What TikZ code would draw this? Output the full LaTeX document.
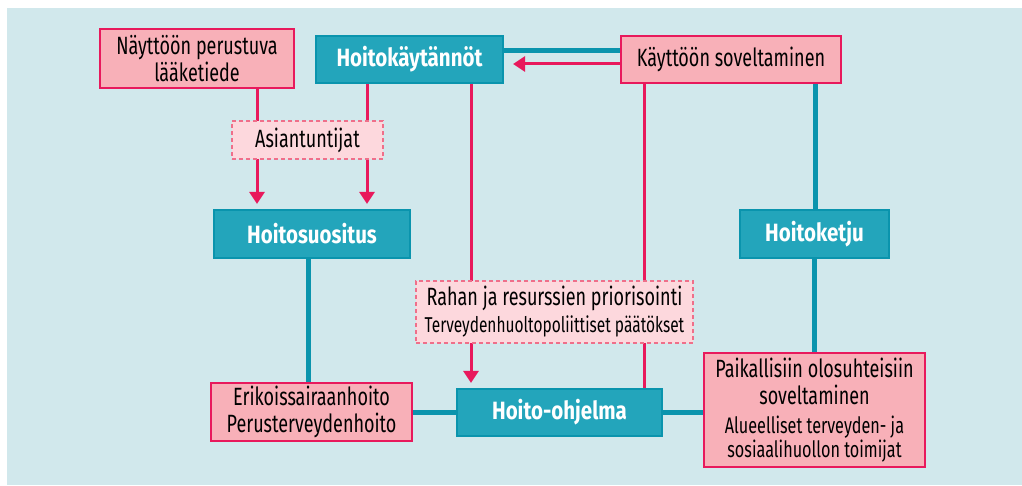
\documentclass[tikz,border=0pt]{standalone}
\usepackage{fontspec}
\setmainfont{Fira Sans}[FakeStretch=0.72, BoldFeatures={FakeStretch=0.82}]
\usetikzlibrary{arrows.meta}
\definecolor{bgc}{HTML}{D1E8EC}
\definecolor{pinkfill}{HTML}{F8B0B8}
\definecolor{pinkline}{HTML}{E8195C}
\definecolor{lightpink}{HTML}{FDD8DD}
\definecolor{dashpink}{HTML}{EF6F8A}
\definecolor{tealfill}{HTML}{23A5BB}
\definecolor{tealline}{HTML}{0A94AD}
\pgfdeclarelayer{bg}
\pgfdeclarelayer{lines}
\pgfsetlayers{bg,lines,main}
\tikzset{
  pinkbox/.style={draw=pinkline, line width=2.2pt, fill=pinkfill, inner sep=0pt, align=center, text=black,
    font=\fontsize{25}{27}\selectfont},
  tealbox/.style={draw=tealline, line width=2.2pt, fill=tealfill, inner sep=0pt, align=center, text=white,
    font=\fontsize{25}{27}\selectfont\bfseries},
  dashbox/.style={draw=dashpink, line width=1.4pt, dash pattern=on 4pt off 3pt, fill=lightpink, inner sep=0pt,
    align=center, text=black, font=\fontsize{25}{27}\selectfont},
  tealconn/.style={draw=tealline, line width=5pt},
  pinkconn/.style={draw=pinkline, line width=3pt},
  pinkarrow/.style={pinkconn, -{Triangle[width=15pt,length=12pt]}, shorten >=5pt}
}
\newcommand{\smallA}{\fontsize{21.5}{23}\selectfont}
\newcommand{\smallB}{\fontsize{22.5}{23}\selectfont}
\begin{document}
\begin{tikzpicture}[x=1pt,y=-1pt]
\useasboundingbox (0,0) rectangle (1022,486);
\begin{pgfonlayer}{bg}
  \fill[white] (0,0) rectangle (1022,486);
  \fill[bgc] (7,8) rectangle (1022,485);
\end{pgfonlayer}

\node[pinkbox, minimum width=194pt, minimum height=59pt] (nay) at (197,58.5) {Näyttöön perustuva\\lääketiede};
\node[tealbox, minimum width=187pt, minimum height=47pt] (hk) at (409.5,59.5) {Hoitokäytännöt};
\node[pinkbox, minimum width=220pt, minimum height=47pt] (kay) at (731,59.5) {Käyttöön soveltaminen};
\node[dashbox, minimum width=151pt, minimum height=38pt] (asi) at (307.5,140) {Asiantuntijat};
\node[tealbox, minimum width=196pt, minimum height=48pt] (suo) at (312,234) {Hoitosuositus};
\node[tealbox, minimum width=149pt, minimum height=48pt] (ket) at (814.5,234) {Hoitoketju};
\node[dashbox, minimum width=277pt, minimum height=62pt] (rah) at (554.5,312) {Rahan ja resurssien priorisointi\\{\smallA Terveydenhuoltopoliittiset päätökset}};
\node[pinkbox, minimum width=201pt, minimum height=58pt] (eri) at (311.5,412) {Erikoissairaanhoito\\Perusterveydenhoito};
\node[tealbox, minimum width=205pt, minimum height=47pt] (ohj) at (559.5,412.5) {Hoito-ohjelma};
\node[pinkbox, minimum width=221pt, minimum height=114pt] (pai) at (814.5,410) {Paikallisiin olosuhteisiin\\soveltaminen\\[2pt]{\smallB Alueelliset terveyden- ja}\\[-3pt]{\smallB sosiaalihuollon toimijat}};

\begin{pgfonlayer}{lines}
  % teal connectors
  \draw[tealconn] (hk.east |- 0,51) -- (kay.west |- 0,51);
  \draw[tealconn] (kay.south -| 815,0) -- (ket.north -| 815,0);
  \draw[tealconn] (ket.south) -- (pai.north -| ket.south);
  \draw[tealconn] (suo.south -| 308,0) -- (eri.north -| 308,0);
  \draw[tealconn] (eri.east |- 0,412) -- (ohj.west |- 0,412);
  \draw[tealconn] (ohj.east |- 0,412) -- (pai.west |- 0,412);
  % pink connectors
  \draw[pinkarrow] (nay.south -| 257,0) -- (suo.north -| 257,0);
  \draw[pinkarrow] (hk.south -| 367,0) -- (suo.north -| 367,0);
  \draw[pinkarrow] (hk.south -| 471,0) -- (ohj.north -| 471,0);
  \draw[pinkarrow, shorten >=9pt] (kay.west |- 0,64) -- (hk.east |- 0,64);
  \draw[pinkconn] (kay.south -| 644,0) -- (ohj.north -| 644,0);
\end{pgfonlayer}
\end{tikzpicture}
\end{document}
